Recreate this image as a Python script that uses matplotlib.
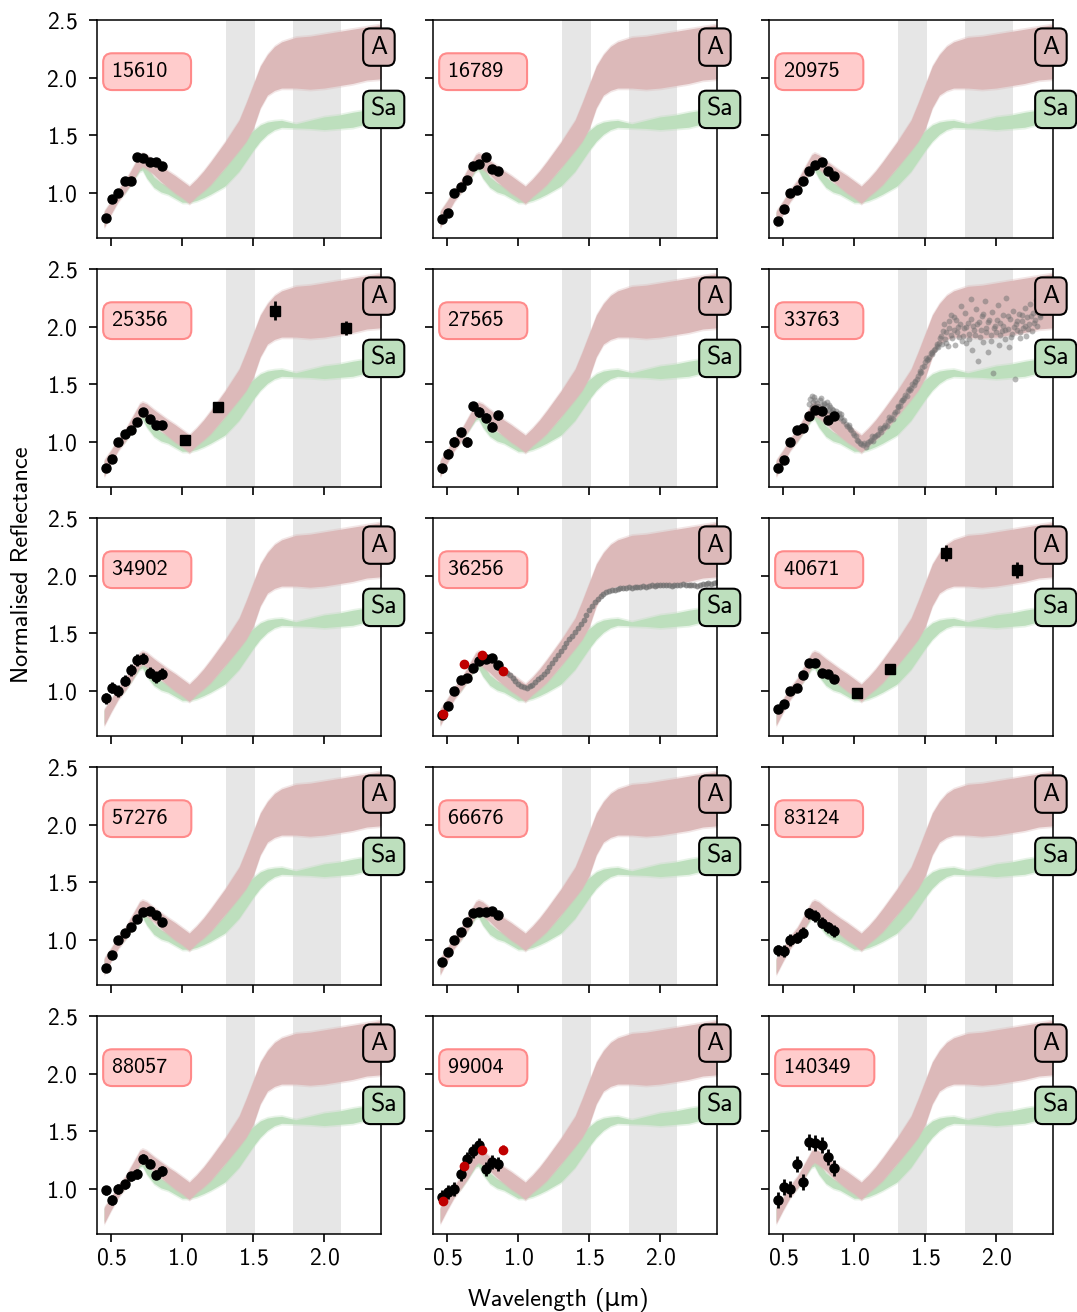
import numpy as np
import matplotlib
matplotlib.use("Agg")
import matplotlib.pyplot as plt

plt.rcParams['font.family'] = ['cmss10', 'DejaVu Sans']
plt.rcParams['axes.formatter.use_mathtext'] = True
plt.rcParams['mathtext.fontset'] = 'cm'

# ---------------- data ----------------
NAMES = ['15610', '16789', '20975', '25356', '27565', '33763', '34902', '36256',
         '40671', '57276', '66676', '83124', '88057', '99004', '140349']

GAIA_WL = [0.462, 0.506, 0.550, 0.594, 0.638, 0.682, 0.726, 0.770, 0.814, 0.858]
SDSS_WL = [0.4686, 0.6166, 0.7480, 0.8932]
MOVIS_WL = [1.02, 1.25, 1.65, 2.15]

R15610 = [0.78, 0.95, 1.00, 1.10, 1.10, 1.31, 1.30, 1.265, 1.27, 1.235]
R16789 = [0.776, 0.825, 1.00, 1.05, 1.11, 1.233, 1.25, 1.31, 1.21, 1.19]
R20975 = [0.755, 0.86, 1.00, 1.026, 1.107, 1.19, 1.245, 1.27, 1.195, 1.15]
R25356 = [0.773, 0.849, 1.00, 1.07, 1.10, 1.17, 1.26, 1.20, 1.15, 1.15]
R27565 = [0.773, 0.90, 1.00, 1.085, 1.00, 1.31, 1.26, 1.21, 1.134, 1.233]
R33763 = [0.776, 0.846, 1.00, 1.105, 1.12, 1.224, 1.277, 1.265, 1.19, 1.226]
R34902 = [0.936, 1.03, 1.00, 1.09, 1.18, 1.27, 1.28, 1.16, 1.12, 1.15]
R36256 = [0.79, 0.866, 1.00, 1.096, 1.11, 1.20, 1.26, 1.277, 1.285, 1.227]
R40671 = [0.845, 0.89, 1.00, 1.03, 1.14, 1.24, 1.245, 1.155, 1.145, 1.10]
R57276 = [0.755, 0.866, 1.00, 1.06, 1.11, 1.18, 1.24, 1.25, 1.215, 1.16]
R66676 = [0.81, 0.90, 1.00, 1.07, 1.16, 1.23, 1.245, 1.24, 1.255, 1.22]
R83124 = [0.91, 0.905, 1.00, 1.02, 1.065, 1.23, 1.21, 1.15, 1.11, 1.076]
R88057 = [0.99, 0.904, 1.00, 1.04, 1.11, 1.13, 1.26, 1.22, 1.125, 1.157]
R99004 = [0.93, 0.977, 1.00, 1.13, 1.26, 1.33, 1.38, 1.17, 1.236, 1.22]
R140349 = [0.906, 1.02, 1.00, 1.22, 1.06, 1.41, 1.40, 1.38, 1.28, 1.18]

GAIA_ERR = [0.01, 0.01, 0.01, 0.01, 0.04, 0.01, 0.05, 0.01,
            0.01, 0.01, 0.01, 0.05, 0.04, 0.06, 0.07]

S36256 = [0.80, 1.233, 1.314, 1.175]
S99004 = [0.90, 1.20, 1.34, 1.34]
S99004_ERR = [0.02, 0.02, 0.02, 0.04]

M25356 = [1.017, 1.30, 2.14, 1.99]
M25356_ERR = [0.01, 0.01, 0.08, 0.06]
M40671 = [0.985, 1.195, 2.20, 2.05]
M40671_ERR = [0.01, 0.01, 0.07, 0.07]

# NIR spectrum of 36256
N36256_WL = [0.88, 0.90, 0.92, 0.94, 0.96, 0.98, 1.00, 1.02, 1.04, 1.06, 1.08, 1.10,
             1.12, 1.14, 1.16, 1.18, 1.20, 1.22, 1.24, 1.26, 1.28, 1.30, 1.32, 1.34,
             1.36, 1.38, 1.40, 1.42, 1.44, 1.46, 1.48, 1.50, 1.52, 1.54, 1.56, 1.58,
             1.60, 1.62, 1.64, 1.66, 1.68, 1.70, 1.72, 1.74, 1.76, 1.78, 1.80, 1.82,
             1.84, 1.86, 1.88, 1.90, 1.92, 1.94, 1.96, 1.98, 2.00, 2.02, 2.04, 2.06,
             2.08, 2.10, 2.12, 2.14, 2.16, 2.18, 2.20, 2.22, 2.24, 2.26, 2.28, 2.30,
             2.32, 2.34, 2.36, 2.38, 2.40, 2.42]
N36256 = [1.19, 1.17, 1.155, 1.135, 1.11, 1.09, 1.065, 1.045, 1.035, 1.03, 1.04, 1.05,
          1.075, 1.10, 1.12, 1.15, 1.175, 1.21, 1.245, 1.28, 1.315, 1.35, 1.385, 1.42,
          1.45, 1.48, 1.51, 1.545, 1.58, 1.62, 1.66, 1.70, 1.735, 1.77, 1.80, 1.825,
          1.84, 1.855, 1.87, 1.875, 1.88, 1.885, 1.89, 1.895, 1.89, 1.90, 1.895, 1.90,
          1.905, 1.90, 1.91, 1.905, 1.91, 1.915, 1.91, 1.915, 1.92, 1.915, 1.92, 1.915,
          1.91, 1.92, 1.915, 1.92, 1.925, 1.92, 1.915, 1.92, 1.915, 1.91, 1.92, 1.925,
          1.93, 1.935, 1.93, 1.94, 1.945, 1.95]

# NIR spectrum of 33763 (noisy)
N33763_WL = [0.68, 0.69, 0.70, 0.71, 0.72, 0.73, 0.74, 0.75, 0.76, 0.77, 0.78, 0.79,
             0.80, 0.81, 0.82, 0.83, 0.84, 0.85, 0.86,
             0.87, 0.88, 0.89, 0.90, 0.91, 0.92, 0.93, 0.94, 0.95, 0.96, 0.97, 0.98,
             0.99, 1.00, 1.01, 1.02, 1.03, 1.04, 1.05, 1.06, 1.07, 1.08, 1.09, 1.10,
             1.11, 1.12, 1.13, 1.14, 1.15, 1.16, 1.17, 1.18, 1.19, 1.20, 1.21, 1.22,
             1.23, 1.24, 1.25, 1.26, 1.27, 1.28, 1.29, 1.30, 1.31, 1.32, 1.33, 1.34,
             1.35, 1.36, 1.37, 1.38, 1.39, 1.40, 1.41, 1.42, 1.43, 1.44, 1.45, 1.46,
             1.47, 1.48, 1.49, 1.50, 1.51, 1.52, 1.53, 1.54, 1.55, 1.56, 1.57, 1.58,
             1.59, 1.60,
             1.61, 1.62, 1.63, 1.64, 1.65, 1.66, 1.67, 1.68, 1.69, 1.70, 1.71, 1.72,
             1.73, 1.74, 1.75, 1.76, 1.77, 1.78, 1.79, 1.80, 1.81, 1.82, 1.83, 1.84,
             1.85, 1.86, 1.87, 1.88, 1.89, 1.90, 1.91, 1.92, 1.93, 1.94, 1.95, 1.96,
             1.97, 1.98, 1.99, 2.00, 2.01, 2.02, 2.03, 2.04, 2.05, 2.06, 2.07, 2.08,
             2.09, 2.10, 2.11, 2.12, 2.13, 2.14, 2.15, 2.16, 2.17, 2.18, 2.19, 2.20,
             2.21, 2.22, 2.23, 2.24, 2.25, 2.26, 2.27, 2.28, 2.29, 2.30, 2.31, 2.32,
             2.33, 2.34, 2.35, 2.36, 2.37, 2.38, 2.39, 2.40, 2.41, 2.42, 2.43, 2.44,
             1.605, 1.625, 1.645, 1.665, 1.685, 1.705, 1.725, 1.745, 1.765, 1.785,
             1.805, 1.825, 1.845, 1.865, 1.885, 1.905, 1.925, 1.945, 1.965, 1.985,
             2.005, 2.025, 2.045, 2.065, 2.085, 2.105, 2.125, 2.145, 2.165, 2.185,
             2.205, 2.225, 2.245, 2.265, 2.285, 2.305, 2.325, 2.345, 2.365, 2.385,
             2.405, 2.425,
             0.705, 0.725, 0.745, 0.765, 0.785, 0.805, 0.825, 0.845, 0.905, 0.965,
             1.125, 1.185, 1.245, 1.305, 1.345, 1.385, 1.425, 1.465, 1.505, 1.545,
             1.585]
N33763 = [1.33, 1.37, 1.30, 1.35, 1.39, 1.31, 1.34, 1.28, 1.36, 1.32, 1.29, 1.33,
          1.27, 1.31, 1.28, 1.30, 1.26, 1.28, 1.25,
          1.27, 1.24, 1.25, 1.21, 1.22, 1.18, 1.19, 1.16, 1.14, 1.15, 1.11, 1.10,
          1.08, 1.06, 1.05, 1.02, 1.01, 0.99, 0.98, 0.97, 0.99, 0.96, 0.98, 1.00,
          1.01, 1.02, 1.01, 1.04, 1.05, 1.06, 1.07, 1.10, 1.09, 1.12, 1.13, 1.15,
          1.14, 1.18, 1.19, 1.21, 1.20, 1.24, 1.26, 1.27, 1.30, 1.31, 1.35, 1.36,
          1.38, 1.41, 1.40, 1.44, 1.45, 1.47, 1.50, 1.49, 1.53, 1.55, 1.57, 1.60,
          1.61, 1.65, 1.66, 1.69, 1.71, 1.72, 1.74, 1.77, 1.76, 1.80, 1.81, 1.83,
          1.82, 1.86,
          1.92, 1.85, 2.02, 1.89, 1.95, 1.83, 2.05, 2.10, 1.90, 1.97, 1.84, 2.06,
          2.00, 1.91, 2.18, 1.88, 1.99, 2.12, 1.86, 2.03, 1.94, 2.24, 1.80, 2.01,
          1.93, 2.15, 1.70, 2.04, 1.97, 2.09, 1.87, 2.22, 1.99, 1.78, 2.06, 1.93,
          2.13, 1.60, 2.01, 1.95, 2.19, 1.84, 2.03, 1.96, 2.10, 1.89, 2.25, 1.98,
          1.82, 2.07, 1.94, 2.14, 1.55, 2.02, 1.97, 2.11, 1.90, 2.05, 1.99, 2.16,
          1.92, 2.08, 2.02, 2.20, 1.96, 2.12, 2.06, 2.23, 2.01, 2.17, 2.10, 2.28,
          2.14, 2.25, 2.19, 2.33, 2.24, 2.38, 2.30, 2.42, 2.36, 2.47, 2.40, 2.50,
          1.90, 1.96, 1.86, 1.99, 1.93, 2.08, 1.95, 2.02, 1.92, 2.00,
          1.89, 2.07, 1.97, 2.02, 1.91, 2.11, 1.95, 2.04, 1.88, 1.99,
          2.06, 1.93, 2.01, 1.97, 2.09, 1.91, 2.00, 2.05, 1.95, 2.10,
          2.01, 1.98, 2.09, 2.03, 2.13, 2.08, 2.19, 2.15, 2.27, 2.31,
          2.39, 2.44,
          1.40, 1.36, 1.31, 1.38, 1.34, 1.35, 1.32, 1.29, 1.24, 1.13,
          1.05, 1.12, 1.22, 1.31, 1.36, 1.46, 1.52, 1.62, 1.73, 1.78,
          1.85]

# Class bands (A and Sa)
BAND_WL = [0.45, 0.50, 0.55, 0.60, 0.65, 0.70, 0.72, 0.75, 0.80, 0.85, 0.90, 0.95,
           1.00, 1.05, 1.10, 1.15, 1.20, 1.30, 1.40, 1.45, 1.50, 1.55, 1.60, 1.65,
           1.70, 1.80, 1.90, 2.00, 2.10, 2.20, 2.30, 2.40]
A_LO = [0.70, 0.82, 0.93, 1.01, 1.10, 1.21, 1.23, 1.21, 1.16, 1.10, 1.05, 1.00,
        0.96, 0.91, 0.97, 1.02, 1.075, 1.22, 1.37, 1.45, 1.56, 1.74, 1.85, 1.89,
        1.91, 1.91, 1.90, 1.91, 1.93, 1.95, 1.98, 1.99]
A_HI = [0.84, 0.93, 1.03, 1.11, 1.22, 1.33, 1.345, 1.33, 1.28, 1.235, 1.19, 1.15,
        1.105, 1.06, 1.12, 1.19, 1.27, 1.44, 1.63, 1.78, 1.94, 2.10, 2.20, 2.27,
        2.31, 2.35, 2.36, 2.38, 2.40, 2.42, 2.44, 2.46]
SA_LO = [0.72, 0.84, 0.95, 1.01, 1.10, 1.19, 1.20, 1.13, 1.05, 1.01, 0.99, 0.955,
         0.92, 0.92, 0.935, 0.96, 0.99, 1.06, 1.19, 1.28, 1.37, 1.45, 1.51, 1.55,
         1.57, 1.565, 1.56, 1.55, 1.56, 1.57, 1.60, 1.64]
SA_HI = [0.83, 0.92, 1.02, 1.08, 1.18, 1.27, 1.28, 1.23, 1.14, 1.09, 1.06, 1.02,
         0.98, 0.98, 1.00, 1.03, 1.08, 1.22, 1.425, 1.49, 1.54, 1.59, 1.615, 1.625,
         1.63, 1.60, 1.63, 1.66, 1.675, 1.70, 1.72, 1.73]

TELLURIC = [(1.31, 1.51), (1.78, 2.12)]
X_TICKS = [0.5, 1.0, 1.5, 2.0]
Y_TICKS = [1.0, 1.5, 2.0, 2.5]

GAIA = [R15610, R16789, R20975, R25356, R27565, R33763, R34902, R36256,
        R40671, R57276, R66676, R83124, R88057, R99004, R140349]
SDSS = {'36256': (S36256, [0.01] * 4), '99004': (S99004, S99004_ERR)}
MOVIS = {'25356': (M25356, M25356_ERR), '40671': (M40671, M40671_ERR)}
NIR = {'33763': (N33763_WL, N33763, 0.5, 4.2),
       '36256': (N36256_WL, N36256, 0.75, 4.2)}

PINK = '#dcb9b9'
GREEN = '#bddfbd'

# ---------------- figure ----------------
W, H = 1077, 1312
fig = plt.figure(figsize=(W / 100, H / 100), dpi=100)
axes = fig.subplots(5, 3, sharex=True, sharey=True)
fig.subplots_adjust(left=97 / W, right=1053 / W, top=1 - 20 / H, bottom=1 - 1234 / H,
                    wspace=52 / 284, hspace=31 / 218)

wl = np.array(BAND_WL)
for i, ax in enumerate(axes.flat):
    name = NAMES[i]
    for a, b in TELLURIC:
        ax.axvspan(a, b, color='#e6e6e6', lw=0, zorder=0)
    # bands with soft edges
    for lo, hi, col in [(SA_LO, SA_HI, GREEN), (A_LO, A_HI, PINK)]:
        lo = np.array(lo)
        hi = np.array(hi)
        ax.fill_between(wl, lo - 0.015, hi + 0.015, color=col, alpha=0.35, lw=0, zorder=1)
        ax.fill_between(wl, lo, hi, color=col, lw=0, zorder=1)
    if name in NIR:
        x, y, al, ms = NIR[name]
        ax.plot(x, y, 'o', color='#707070', alpha=al, ms=ms, mec='none', zorder=2)
    ax.errorbar(GAIA_WL, GAIA[i], yerr=GAIA_ERR[i], fmt='o', color='k', ms=6.5,
                elinewidth=2, capsize=0, zorder=4)
    if name in SDSS:
        y, e = SDSS[name]
        ax.errorbar(SDSS_WL, y, yerr=e, fmt='o', color='#c00000', ms=6,
                    elinewidth=2, capsize=0, zorder=5)
    if name in MOVIS:
        y, e = MOVIS[name]
        ax.errorbar(MOVIS_WL, y, yerr=e, fmt='s', color='k', ms=7.5,
                    elinewidth=2, capsize=0, zorder=4)
    ax.text(0.053, 0.763, name + '  ', transform=ax.transAxes, ha='left', va='center',
            fontsize=16, zorder=10,
            bbox=dict(boxstyle='round,pad=0.4', fc='#ffcccc', ec='#ff8a8a', lw=1.5))
    ax.text(2.325, 2.265, 'A', ha='left', va='center', fontsize=18.5, clip_on=False,
            zorder=10, bbox=dict(boxstyle='round,pad=0.28', fc=PINK, ec='k', lw=1.5))
    ax.text(2.325, 1.725, 'Sa', ha='left', va='center', fontsize=18.5, clip_on=False,
            zorder=10, bbox=dict(boxstyle='round,pad=0.28', fc=GREEN, ec='k', lw=1.5))
    ax.set_xlim(0.4, 2.4)
    ax.set_ylim(0.61, 2.5)
    ax.set_xticks(X_TICKS)
    ax.set_yticks(Y_TICKS)
    ax.tick_params(direction='out', length=6, width=1.2, labelsize=17)
    ax.tick_params(axis='y', pad=8)
    for s in ax.spines.values():
        s.set_linewidth(1.1)

fig.text(22 / W, 1 - 565 / H, 'Normalised Reflectance', rotation=90, ha='center',
         va='center', fontsize=17.5)
fig.text(558 / W, 1 - 1300 / H, 'Wavelength (μm)', ha='center', va='center', fontsize=17.5)

fig.savefig('out.png', dpi=100)
